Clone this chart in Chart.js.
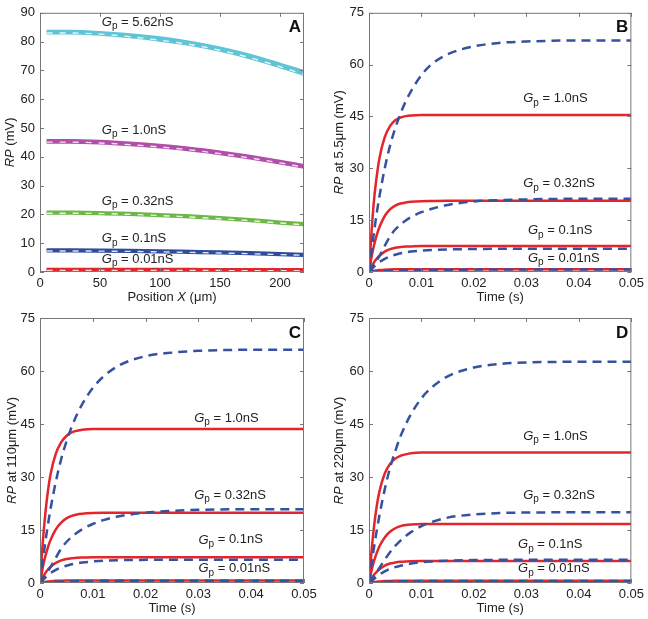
<!DOCTYPE html>
<html>
<head>
<meta charset="utf-8">
<script src="https://cdn.jsdelivr.net/npm/chart.js@4.4.1/dist/chart.umd.min.js"></script>
<style>
  body { margin: 0; background: #fff; }
  #wrap { position: relative; width: 648px; height: 619px; }
  canvas { position: absolute; }
</style>
</head>
<body>
<div id="wrap">
  <canvas id="panelA" width="324" height="305" style="left:0;top:0"></canvas>
  <canvas id="panelB" width="324" height="305" style="left:324px;top:0"></canvas>
  <canvas id="panelC" width="324" height="314" style="left:0;top:305px"></canvas>
  <canvas id="panelD" width="324" height="314" style="left:324px;top:305px"></canvas>
</div>
<script>
// ---- data ----

// panel A: RP along the cable
const posX = [5.5, 25, 50, 75, 100, 125, 150, 175, 200, 220];
const a562Solid = [83.6, 83.6, 83.2, 82.4, 81.3, 79.8, 77.8, 75.3, 72.2, 69.6];
const a562Dash  = [83.0, 83.0, 82.6, 81.7, 80.5, 79.0, 77.0, 74.4, 71.3, 68.6];
const a100Solid = [45.7, 45.7, 45.4, 44.8, 44.0, 43.0, 41.7, 40.2, 38.5, 37.0];
const a100Dash  = [45.1, 45.1, 44.8, 44.2, 43.4, 42.4, 41.1, 39.6, 37.9, 36.4];
const a032Solid = [20.8, 20.8, 20.7, 20.4, 20.0, 19.5, 18.9, 18.2, 17.4, 16.8];
const a032Dash  = [20.4, 20.4, 20.3, 20.0, 19.6, 19.1, 18.5, 17.8, 17.0, 16.4];
const a010Solid = [7.7, 7.7, 7.65, 7.55, 7.4, 7.2, 7.0, 6.75, 6.45, 6.2];
const a010Dash  = [7.3, 7.3, 7.25, 7.15, 7.0, 6.8, 6.6, 6.35, 6.05, 5.8];
const a001Solid = [0.95, 0.95, 0.95, 0.94, 0.93, 0.92, 0.9, 0.88, 0.86, 0.84];
const a001Dash  = [0.55, 0.55, 0.55, 0.54, 0.53, 0.52, 0.5, 0.48, 0.46, 0.44];

// panels B-D: RP over time
const timeS = [0, 0.0005, 0.001, 0.0015, 0.002, 0.003, 0.004, 0.005, 0.006, 0.007,
               0.008, 0.01, 0.012, 0.015, 0.02, 0.025, 0.03, 0.04, 0.05];

const b100Solid = [0, 12, 21.5, 28, 33, 39, 42.2, 43.9, 44.7, 45.1, 45.3, 45.4, 45.4, 45.4, 45.4, 45.4, 45.4, 45.4, 45.4];
const b100Dash  = [0, 6.3, 12, 17.3, 22, 30, 36.5, 41.6, 45.8, 49.4, 52.3, 57, 60.2, 63, 65.3, 66.3, 66.7, 67, 67];
const b032Solid = [0, 4.5, 8, 10.8, 13, 16.2, 18.1, 19.2, 19.8, 20.1, 20.3, 20.5, 20.55, 20.6, 20.6, 20.6, 20.6, 20.6, 20.6];
const b032Dash  = [0, 1.2, 2.4, 3.5, 4.7, 7.6, 10.3, 12.3, 13.7, 14.9, 15.9, 17.3, 18.3, 19.4, 20.4, 20.8, 21.0, 21.2, 21.2];
const b010Solid = [0, 1.6, 2.9, 3.9, 4.7, 5.9, 6.6, 7.0, 7.2, 7.35, 7.4, 7.5, 7.5, 7.5, 7.5, 7.5, 7.5, 7.5, 7.5];
const b010Dash  = [0, 0.8, 1.6, 2.3, 2.9, 3.8, 4.5, 5.0, 5.4, 5.7, 5.9, 6.2, 6.4, 6.55, 6.65, 6.7, 6.7, 6.7, 6.7];
const b001Solid = [0, 0.2, 0.35, 0.45, 0.55, 0.68, 0.74, 0.77, 0.79, 0.8, 0.8, 0.8, 0.8, 0.8, 0.8, 0.8, 0.8, 0.8, 0.8];
const b001Dash  = [0, 0.08, 0.15, 0.22, 0.3, 0.38, 0.45, 0.5, 0.55, 0.58, 0.6, 0.63, 0.65, 0.67, 0.69, 0.7, 0.7, 0.7, 0.7];

const c100Solid = [0, 11, 19.5, 26, 30.8, 36.6, 39.8, 41.6, 42.6, 43.1, 43.4, 43.6, 43.6, 43.6, 43.6, 43.6, 43.6, 43.6, 43.6];
const c100Dash  = [0, 6, 11.5, 16.5, 21, 28.7, 35, 40, 44.2, 47.7, 50.6, 55.2, 58.4, 61.6, 64.2, 65.2, 65.7, 66, 66];
const c032Solid = [0, 4.2, 7.5, 10.1, 12.2, 15.2, 17.1, 18.3, 19, 19.4, 19.6, 19.8, 19.9, 19.9, 19.9, 19.9, 19.9, 19.9, 19.9];
const c032Dash  = [0, 1.1, 2.3, 3.4, 4.5, 7.2, 9.7, 11.6, 13, 14.2, 15.2, 16.7, 17.8, 18.9, 19.9, 20.4, 20.7, 20.9, 20.9];
const c010Solid = [0, 1.5, 2.8, 3.8, 4.6, 5.7, 6.4, 6.8, 7.0, 7.15, 7.2, 7.3, 7.3, 7.3, 7.3, 7.3, 7.3, 7.3, 7.3];
const c010Dash  = [0, 0.75, 1.5, 2.2, 2.8, 3.7, 4.4, 4.9, 5.3, 5.6, 5.8, 6.1, 6.3, 6.45, 6.55, 6.6, 6.6, 6.6, 6.6];
const c001Solid = [0, 0.18, 0.32, 0.42, 0.5, 0.62, 0.67, 0.7, 0.71, 0.72, 0.72, 0.72, 0.72, 0.72, 0.72, 0.72, 0.72, 0.72, 0.72];
const c001Dash  = [0, 0.07, 0.14, 0.2, 0.27, 0.35, 0.42, 0.47, 0.51, 0.54, 0.56, 0.59, 0.61, 0.63, 0.64, 0.65, 0.65, 0.65, 0.65];

const d100Solid = [0, 9.3, 16.5, 22, 26, 31, 33.7, 35.2, 36, 36.4, 36.7, 36.9, 36.9, 36.9, 36.9, 36.9, 36.9, 36.9, 36.9];
const d100Dash  = [0, 5.5, 10.5, 15, 19.2, 26.5, 32.5, 37.3, 41.5, 44.9, 47.8, 52.3, 55.4, 58.5, 61, 62, 62.4, 62.6, 62.6];
const d032Solid = [0, 3.6, 6.4, 8.6, 10.4, 12.9, 14.5, 15.5, 16.1, 16.4, 16.55, 16.7, 16.7, 16.7, 16.7, 16.7, 16.7, 16.7, 16.7];
const d032Dash  = [0, 1, 2.1, 3.2, 4.3, 6.6, 8.7, 10.5, 12, 13.3, 14.4, 16.1, 17.3, 18.5, 19.4, 19.8, 19.95, 20, 20];
const d010Solid = [0, 1.3, 2.4, 3.2, 3.9, 4.9, 5.5, 5.8, 6.0, 6.1, 6.15, 6.2, 6.2, 6.2, 6.2, 6.2, 6.2, 6.2, 6.2];
const d010Dash  = [0, 0.6, 1.2, 1.8, 2.4, 3.3, 4.0, 4.5, 4.9, 5.2, 5.5, 5.9, 6.1, 6.3, 6.5, 6.55, 6.6, 6.6, 6.6];
const d001Solid = [0, 0.16, 0.29, 0.38, 0.45, 0.55, 0.6, 0.63, 0.64, 0.65, 0.65, 0.65, 0.65, 0.65, 0.65, 0.65, 0.65, 0.65, 0.65];
const d001Dash  = [0, 0.06, 0.12, 0.18, 0.24, 0.32, 0.38, 0.43, 0.47, 0.5, 0.52, 0.55, 0.57, 0.58, 0.59, 0.6, 0.6, 0.6, 0.6];

// tick labels
const posTicks = [0, 50, 100, 150, 200];
const rpTicksA = [0, 10, 20, 30, 40, 50, 60, 70, 80, 90];
const timeTicks = [0, 0.01, 0.02, 0.03, 0.04, 0.05];
const rpTicksT = [0, 15, 30, 45, 60, 75];

const gpLabelsA = ['5.62nS', '1.0nS', '0.32nS', '0.1nS', '0.01nS'];
const gpLabelsT = ['1.0nS', '0.32nS', '0.1nS', '0.01nS'];

// ---- drawing ----
const FONT = 'Arial, "Liberation Sans", sans-serif';
const RED = '#e2262b';
const BLUE = '#3551a0';

Chart.defaults.font.family = FONT;
Chart.defaults.font.size = 13;
Chart.defaults.color = '#222';

function pts(xs, ys) {
    return xs.map((x, i) => ({ x: x, y: ys[i] }));
}

function line(xs, ys, color, width, dash, order) {
    return {
        data: pts(xs, ys),
        borderColor: color,
        borderWidth: width,
        borderDash: dash || [],
        pointRadius: 0,
        fill: false,
        cubicInterpolationMode: 'monotone',
        order: order
    };
}

// draws text made of pieces (italic / subscript) starting at x
function richText(ctx, parts, x, y, center) {
    const fontOf = p => (p.it ? 'italic ' : '') + (p.sub ? 10 : 13) + 'px ' + FONT;
    let total = 0;
    parts.forEach(p => { ctx.font = fontOf(p); total += ctx.measureText(p.t).width; });
    let cx = center ? x - total / 2 : x;
    ctx.textBaseline = 'middle';
    ctx.textAlign = 'left';
    parts.forEach(p => {
        ctx.font = fontOf(p);
        ctx.fillText(p.t, cx, p.sub ? y + 4 : y);
        cx += ctx.measureText(p.t).width;
    });
}

const framePlugin = {
    id: 'frame',
    afterDatasetsDraw(chart, args, opts) {
        const ctx = chart.ctx;
        const area = chart.chartArea;
        const xs = chart.scales.x, ys = chart.scales.y;
        ctx.save();
        ctx.fillStyle = '#222';
        // curve labels
        opts.labels.forEach(l => {
            richText(ctx, [{ t: 'G', it: true }, { t: 'p', sub: true }, { t: ' = ' + l.text }],
                xs.getPixelForValue(l.x), ys.getPixelForValue(l.y), false);
        });
        // box with inward ticks
        ctx.strokeStyle = '#777';
        ctx.lineWidth = 1;
        ctx.strokeRect(area.left + 0.5, area.top + 0.5, area.right - area.left - 1, area.bottom - area.top - 1);
        ctx.beginPath();
        xs.ticks.forEach(t => {
            const px = Math.round(xs.getPixelForValue(t.value)) + 0.5;
            ctx.moveTo(px, area.bottom); ctx.lineTo(px, area.bottom - 4);
            ctx.moveTo(px, area.top); ctx.lineTo(px, area.top + 4);
        });
        ys.ticks.forEach(t => {
            const py = Math.round(ys.getPixelForValue(t.value)) + 0.5;
            ctx.moveTo(area.left, py); ctx.lineTo(area.left + 4, py);
            ctx.moveTo(area.right, py); ctx.lineTo(area.right - 4, py);
        });
        ctx.stroke();
        // panel letter
        ctx.font = 'bold 17px ' + FONT;
        ctx.textAlign = 'right';
        ctx.textBaseline = 'middle';
        ctx.fillStyle = '#111';
        ctx.fillText(opts.letter, area.right - 3, area.top + 15);
        // axis titles
        ctx.fillStyle = '#222';
        richText(ctx, opts.xTitle, (area.left + area.right) / 2, area.bottom + 25, true);
        ctx.translate(area.left - opts.yTitleGap, (area.top + area.bottom) / 2);
        ctx.rotate(-Math.PI / 2);
        richText(ctx, opts.yTitle, 0, 0, true);
        ctx.restore();
    }
};

function makePanel(id, p) {
    new Chart(document.getElementById(id), {
        type: 'line',
        data: { datasets: p.datasets },
        plugins: [framePlugin],
        options: {
            responsive: false,
            animation: false,
            layout: { padding: { top: p.padTop, right: p.padRight, left: 0, bottom: 0 } },
            plugins: {
                legend: { display: false },
                tooltip: { enabled: false },
                frame: p.frame
            },
            scales: {
                x: {
                    type: 'linear',
                    min: p.xMin, max: p.xMax,
                    grid: { display: false, drawTicks: false },
                    border: { display: false },
                    afterBuildTicks: s => { s.ticks = p.xTicks.map(v => ({ value: v })); },
                    afterFit: s => { s.height = p.xH; },
                    ticks: {
                        padding: 4, maxRotation: 0, autoSkip: false,
                        callback: p.xFmt
                    }
                },
                y: {
                    min: p.yMin, max: p.yMax,
                    grid: { display: false, drawTicks: false },
                    border: { display: false },
                    afterBuildTicks: s => { s.ticks = p.yTicks.map(v => ({ value: v })); },
                    afterFit: s => { s.width = p.leftW; },
                    ticks: { padding: 5, autoSkip: false }
                }
            }
        }
    });
}

// panel A datasets: solid on top, dashed below with a white dash core
const aColors = ['#5ec4d6', '#b14ea9', '#6bb846', '#2f4c9c', '#e2262b'];
const aSolid = [a562Solid, a100Solid, a032Solid, a010Solid, a001Solid];
const aDash = [a562Dash, a100Dash, a032Dash, a010Dash, a001Dash];
const aSets = [];
aColors.forEach((c, i) => {
    aSets.push(line(posX, aDash[i], 'rgba(255,255,255,0.85)', 1.4, [6, 7], 0));
    aSets.push(line(posX, aSolid[i], c, 3, null, 1));
    aSets.push(line(posX, aDash[i], c, 3.2, null, 2));
});

const timeFmt = v => v === 0 ? '0' : v.toFixed(2);

makePanel('panelA', {
    datasets: aSets,
    xMin: 0, xMax: 220, xTicks: posTicks, xFmt: v => String(v),
    yMin: 0, yMax: 90, yTicks: rpTicksA,
    leftW: 40, padRight: 20, padTop: 7, xH: 33,
    frame: {
        letter: 'A',
        xTitle: [{ t: 'Position ' }, { t: 'X', it: true }, { t: ' (\u03bcm)' }],
        yTitle: [{ t: 'RP', it: true }, { t: ' (mV)' }],
        yTitleGap: 30,
        labels: [
            { x: 51.5, y: 86.6, text: gpLabelsA[0] },
            { x: 51.5, y: 49.3, text: gpLabelsA[1] },
            { x: 51.5, y: 24.5, text: gpLabelsA[2] },
            { x: 51.5, y: 11.5, text: gpLabelsA[3] },
            { x: 51.5, y: 4.4, text: gpLabelsA[4] }
        ]
    }
});

function timeSets(solid, dash) {
    const out = [];
    solid.forEach(s => out.push(line(timeS, s, RED, 2.5, null, 1)));
    dash.forEach(d => out.push(line(timeS, d, BLUE, 2.5, [9, 6], 0)));
    return out;
}

makePanel('panelB', {
    datasets: timeSets([b100Solid, b032Solid, b010Solid, b001Solid], [b100Dash, b032Dash, b010Dash, b001Dash]),
    xMin: 0, xMax: 0.05, xTicks: timeTicks, xFmt: timeFmt,
    yMin: 0, yMax: 75, yTicks: rpTicksT,
    leftW: 45, padRight: 15, padTop: 7, xH: 33,
    frame: {
        letter: 'B',
        xTitle: [{ t: 'Time (s)' }],
        yTitle: [{ t: 'RP', it: true }, { t: ' at 5.5\u03bcm (mV)' }],
        yTitleGap: 30,
        labels: [
            { x: 0.0294, y: 50.1, text: gpLabelsT[0] },
            { x: 0.0294, y: 25.5, text: gpLabelsT[1] },
            { x: 0.0303, y: 11.9, text: gpLabelsT[2] },
            { x: 0.0303, y: 4.0, text: gpLabelsT[3] }
        ]
    }
});

makePanel('panelC', {
    datasets: timeSets([c100Solid, c032Solid, c010Solid, c001Solid], [c100Dash, c032Dash, c010Dash, c001Dash]),
    xMin: 0, xMax: 0.05, xTicks: timeTicks, xFmt: timeFmt,
    yMin: 0, yMax: 75, yTicks: rpTicksT,
    leftW: 40, padRight: 20, padTop: 13, xH: 36,
    frame: {
        letter: 'C',
        xTitle: [{ t: 'Time (s)' }],
        yTitle: [{ t: 'RP', it: true }, { t: ' at 110\u03bcm (mV)' }],
        yTitleGap: 28,
        labels: [
            { x: 0.0292, y: 46.7, text: gpLabelsT[0] },
            { x: 0.0292, y: 24.9, text: gpLabelsT[1] },
            { x: 0.0300, y: 12.2, text: gpLabelsT[2] },
            { x: 0.0300, y: 4.0, text: gpLabelsT[3] }
        ]
    }
});

makePanel('panelD', {
    datasets: timeSets([d100Solid, d032Solid, d010Solid, d001Solid], [d100Dash, d032Dash, d010Dash, d001Dash]),
    xMin: 0, xMax: 0.05, xTicks: timeTicks, xFmt: timeFmt,
    yMin: 0, yMax: 75, yTicks: rpTicksT,
    leftW: 45, padRight: 15, padTop: 13, xH: 36,
    frame: {
        letter: 'D',
        xTitle: [{ t: 'Time (s)' }],
        yTitle: [{ t: 'RP', it: true }, { t: ' at 220\u03bcm (mV)' }],
        yTitleGap: 30,
        labels: [
            { x: 0.0294, y: 41.6, text: gpLabelsT[0] },
            { x: 0.0294, y: 24.9, text: gpLabelsT[1] },
            { x: 0.0284, y: 10.8, text: gpLabelsT[2] },
            { x: 0.0284, y: 4.0, text: gpLabelsT[3] }
        ]
    }
});
</script>
</body>
</html>
